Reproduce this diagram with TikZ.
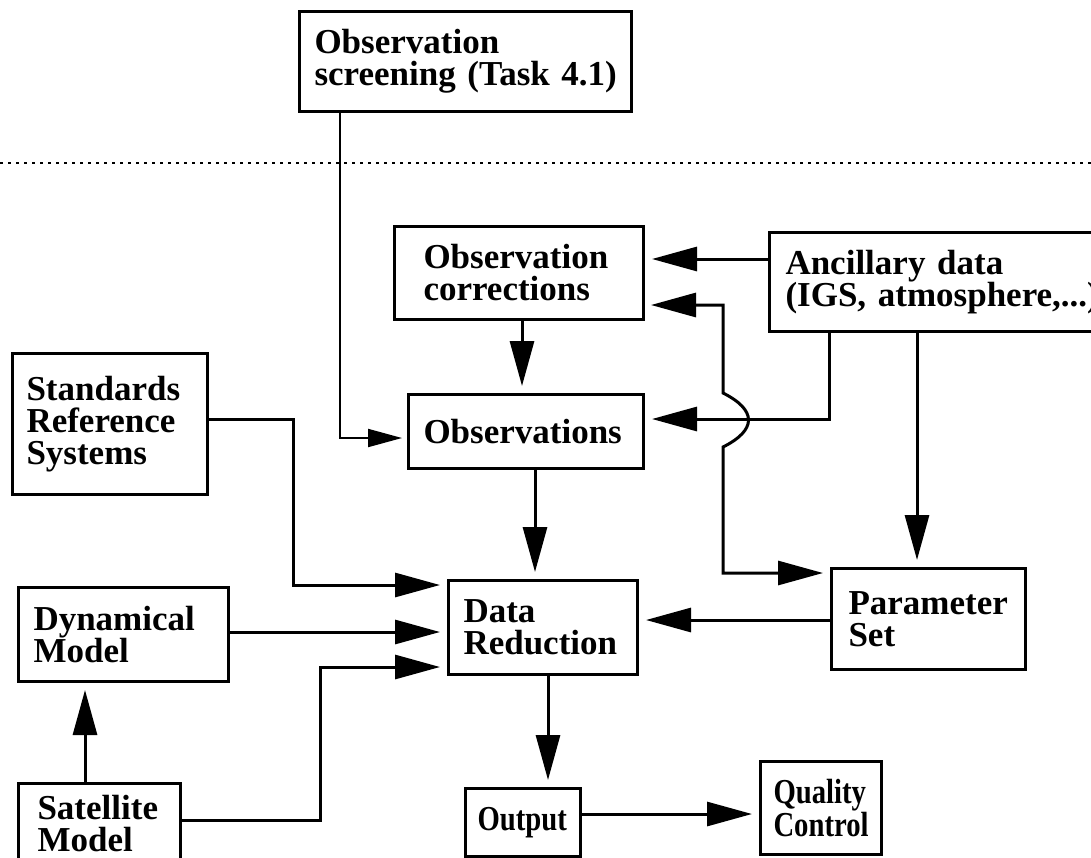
\documentclass[tikz,border=0pt]{standalone}
\usepackage{fontspec}
\setmainfont{Liberation Serif}
\newfontfamily\condfont{Liberation Serif}[FakeStretch=0.82]
\usetikzlibrary{arrows.meta}
\begin{document}
\begin{tikzpicture}[x=1pt,y=-1pt,
  box/.style={draw, line width=3pt, rectangle, anchor=north west, align=left,
    font=\fontsize{35}{32}\selectfont\bfseries, inner ysep=0pt},
  tip/.style={Triangle[length=45pt,width=24pt]},
  conn/.style={line width=3pt, -{Triangle[length=45pt,width=24pt]}, shorten >=7pt},
  thinconn/.style={line width=2pt, -{Triangle[length=34pt,width=18pt]}, shorten >=5pt},
]
\useasboundingbox (0,0) rectangle (1091,857);

% boxes
\node[box, minimum width=332pt, minimum height=100pt, text width=302pt, inner xsep=15pt] (screen) at (298,10) {Observation\\screening~(Task~4.1)};
\node[box, minimum width=249pt, minimum height=93pt, text width=191pt, inner xsep=29pt] (corr) at (393,225) {Observation\\corrections};
\node[box, minimum width=235pt, minimum height=74pt, text width=205pt, inner xsep=15pt] (obs) at (407,393) {Observations};
\node[box, minimum width=352pt, minimum height=99pt, text width=320pt, inner xsep=16pt] (anc) at (768,231) {Ancillary data\\(IGS,~atmosphere,...)};
\node[box, minimum width=195pt, minimum height=141pt, text width=167pt, inner xsep=14pt] (std) at (11,352) {Standards\\Reference\\Systems};
\node[box, minimum width=189pt, minimum height=94pt, text width=159pt, inner xsep=15pt] (dr) at (447,579) {Data\\Reduction};
\node[box, minimum width=194pt, minimum height=101pt, text width=160pt, inner xsep=17pt] (par) at (830,567) {Parameter\\Set};
\node[box, minimum width=210pt, minimum height=94pt, text width=180pt, inner xsep=15pt] (dyn) at (17,586) {Dynamical\\Model};
\node[box, minimum width=162pt, minimum height=80pt, text width=124pt, inner xsep=19pt] (sat) at (17,782) {Satellite\\Model};
\node[box, minimum width=115pt, minimum height=68pt, text width=91pt, inner xsep=12pt,
  font=\fontsize{35}{32}\condfont\bfseries] (out) at (464,787) {Output};
\node[box, minimum width=121pt, minimum height=93pt, text width=95pt, inner xsep=13pt,
  font=\fontsize{35}{29}\condfont\bfseries] (qc) at (759,760) {Quality\\Control};

% dotted separator
\draw[line width=2.5pt, dash pattern=on 2.5pt off 5.5pt] (0,163) -- (1091,163);

% connectors
\draw[thinconn] (screen.south -| 340,0) -- (340,438) -- (obs.west |- 0,438);
\draw[conn] (anc.west |- 0,259) -- (corr.east |- 0,259);
\draw[conn] (anc.south -| 829,0) -- (829,419) -- (obs.east |- 0,419);
\draw[conn] (anc.south -| 917,0) -- (par.north -| 917,0);
\draw[line width=3pt, {Triangle[length=45pt,width=24pt]}-{Triangle[length=45pt,width=24pt]}, shorten <=6pt, shorten >=7pt]
  (corr.east |- 0,305) -- (723,305) -- (723,393)
  .. controls (757,410) and (757,430) .. (723,447) -- (723,573) -- (par.west |- 0,573);
\draw[conn] (corr.south -| 522,0) -- (obs.north -| 522,0);
\draw[conn] (obs.south -| 535,0) -- (dr.north -| 535,0);
\draw[conn] (std.east |- 0,419) -- (293,419) -- (293,585) -- (dr.west |- 0,585);
\draw[conn] (dyn.east |- 0,632) -- (dr.west |- 0,632);
\draw[conn] (sat.east |- 0,820) -- (320,820) -- (320,667) -- (dr.west |- 0,667);
\draw[conn] (sat.north -| 85,0) -- (dyn.south -| 85,0);
\draw[conn] (par.west |- 0,620) -- (dr.east |- 0,620);
\draw[conn] (dr.south -| 548,0) -- (out.north -| 548,0);
\draw[conn] (out.east |- 0,814) -- (qc.west |- 0,814);
\end{tikzpicture}
\end{document}
